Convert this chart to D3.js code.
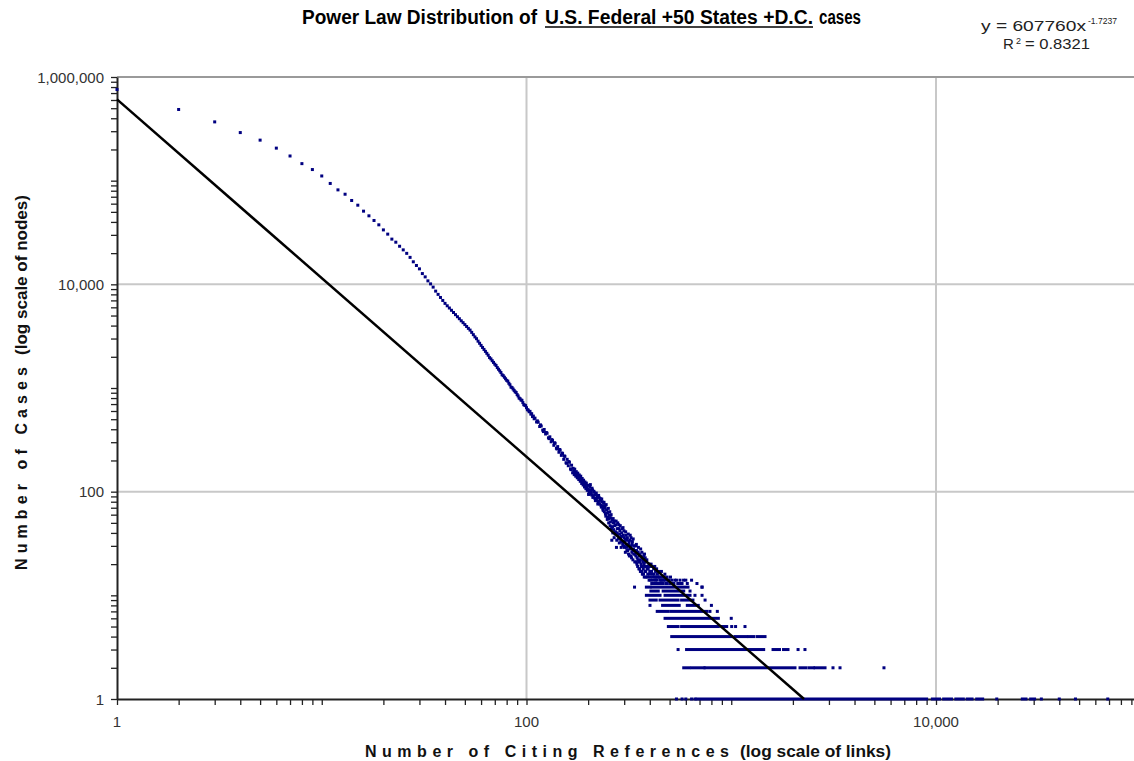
<!DOCTYPE html>
<html lang="en">
<head>
<meta charset="utf-8">
<title>Power Law Distribution</title>
<script src="https://cdn.jsdelivr.net/npm/d3@7"></script>
<style>
  html, body { margin: 0; padding: 0; background: #fff; }
  svg { display: block; font-family: "Liberation Sans", Arial, sans-serif; }
</style>
</head>
<body>
<div id="chart"></div>
<script>
// [citing references, number of cases]
var headPoints = [
  [1,757000],[2,486000],[3,369000],[4,291000],[5,246000],[6,206000],[7,173000],[8,146000],[9,128000],[10,111000],
  [11,94000],[12,81500],[13,74000],[14,64400],[15,58000],[16,50800],[17,45800],[18,41300],[19,37500],[20,33500],
  [21,30500],[22,27300],[23,25500],[24,23300],[25,21500],[26,19900],[27,18200],[28,16500],[29,15200],[30,14100],
  [31,12700],[32,11800],[33,10800],[34,10100],[35,9400],[36,8600],[37,8000],[38,7470],[39,6990],[40,6550],
  [41,6210],[42,5910],[43,5620],[44,5350],[45,5100],[46,4870],[47,4660],[48,4450],[49,4270],[50,4090],
  [51,3920],[52,3760],[53,3620],[54,3440],[55,3270],[56,3110],[57,2990],[58,2830],[59,2700],[60,2575],
  [61,2460],[62,2355],[63,2255],[64,2160],[65,2070],[66,1965],[67,1910],[68,1834],[69,1765],[70,1697],
  [71,1650],[72,1574],[73,1517],[74,1463],[75,1410],[76,1340],[77,1315],[78,1270],[79,1227],[80,1186],
  [81,1165],[82,1111],[83,1075],[84,1020],[85,1009],[86,978],[87,948],[88,919],[89,905],[90,864],
  [91,838],[92,800],[93,789],[94,766],[95,760],[96,723],[97,690],[98,683],[99,676],[100,646],
  [101,618],[102,612]
];

var bandPoints = [
  [103,590],[104,595],[105,560],[106,565],[107,530],[108,536],[109,505],[110,512],[112,470],[113,482],
  [114,468],[116,425],[117,441],[118,430],[120,392],[121,380],[122,398],[124,360],[125,372],[126,366],
  [128,331],[129,325],[130,338],[132,303],[133,318],[134,312],[136,280],[137,296],[138,293],[140,262],
  [141,258],[142,272],[144,240],[145,255],[146,252],[148,224],[149,236],[150,233],[152,205],[153,221],
  [154,219],[156,190],[157,188],[158,205],[160,178],[161,195],[162,192],[164,166],[165,163],[166,180],
  [168,152],[169,168],[170,158],[171,146],[172,165],[173,150],[174,141],[175,156],[176,146],[177,136],
  [178,151],[179,140],[180,131],[181,145],[182,137],[183,126],[184,141],[185,128],[186,120],[187,134],
  [188,125],[189,116],[190,129],[191,119],[192,111],[193,124],[194,116],[195,107],[196,121],[197,110],
  [198,103],[199,115],[200,106],[201,94],[202,98],[203,104],[204,111],[205,117],[206,100],[207,96],
  [208,93],[209,108],[210,104],[211,88],[212,90],[213,101],[214,99],[215,93],[216,86],[217,82],
  [218,95],[219,97],[220,82],[221,87],[222,91],[223,76],[224,79],[225,92],[226,88],[227,81],
  [228,76],[229,86],[230,84],[231,74],[232,71],[233,85],[234,80],[235,72],[236,68],[237,66],
  [238,77],[239,79],[240,64],[241,70],[242,72],[243,61],[244,58],[245,75],[246,67],[247,62],
  [248,54],[249,57],[250,63],[251,69],[252,50],[253,55],[254,59],[255,64],[256,47],[257,51],
  [258,56],[259,60],[260,44],[261,34],[262,53],[263,46],[264,40],[265,55],[266,50],[267,43],
  [268,36],[269,52],[270,47],[271,39],[272,41],[273,48],[274,52],[275,29],[276,34],[277,40],
  [278,44],[279,50],[280,38],[281,35],[282,48],[283,44],[284,32],[285,39],[286,42],[287,47],
  [288,36],[289,33],[290,29],[291,37],[292,40],[293,44],[294,33],[295,31],[296,45],[297,38],
  [298,30],[299,42],[300,36],[301,29],[302,33],[303,35],[304,26],[305,41],[306,38],[307,31],
  [308,29],[309,27],[310,34],[311,36],[312,27],[313,30],[314,39],[315,25],[316,31],[317,33],
  [318,24],[319,28],[320,34],[321,38],[322,29],[323,24],[324,36],[325,30],[326,23],[327,26],
  [328,31],[329,33],[330,27],[331,22],[332,35],[333,28],[334,25],[336,30],[337,12],[338,21],
  [339,25],[340,27],[341,30],[342,24],[343,21],[344,31],[345,27],[346,20],[347,23],[348,26],
  [349,19],[350,22],[351,26],[352,29],[353,21],[354,18],[355,24],[356,25],[357,18],[358,21],
  [359,22],[360,17],[361,28],[362,24],[363,20],[364,19],[365,17],[366,26],[367,23],[368,16],
  [369,19],[370,22],[371,21],[372,18],[373,16],[374,24],[375,20],[376,15],[377,25],[378,21],
  [379,17],[380,23],[381,19],[382,17],[383,15],[384,19],[385,21],[387,22],[388,18],[390,15],
  [391,16],[393,18],[394,19],[396,20],[397,14],[399,16],[400,17],[402,19],[403,15],[405,14],
  [406,20],[408,17],[409,13],[411,19],[412,16],[414,15],[415,14],[417,13],[418,18],[420,16],
  [421,13],[423,19],[424,15],[426,14],[427,17],[429,15],[430,13],[432,18],[433,14],[435,13],
  [436,16],[438,15],[440,13],[442,17],[444,15],[446,13],[448,14],[450,15],[452,13],[454,14],
  [456,17],[458,13],[460,14],[462,15],[465,13],[468,14],[470,15],[474,16],[476,14],[480,13],
  [483,13],[486,15],[490,14],[495,14],[500,13],[505,15],[512,14],[518,13],[525,13],[530,14],
  [540,14],[548,13],[556,13],[562,14],[568,13],[575,13],[585,14],[600,14],[610,13],[640,14],
  [680,13],[720,12]
];

// low counts form horizontal runs: [cases, first k, last k]
var caseRuns = [
  [1,540,540],[1,575,575],[1,600,600],[1,640,640],[1,665,665],[1,680,9000],[1,9600,10400],[1,10900,11900],
  [1,12500,13600],[1,14200,15000],[1,15800,16900],[1,19800,19800],[1,26400,27500],[1,29000,30300],
  [1,32700,32700],[1,40000,40000],[1,48000,48000],[1,69000,69000],
  [2,586,625],[2,644,737],[2,744,2048],[2,2167,2318],[2,2400,2520],[2,2565,2871],[2,3140,3140],[2,3398,3398],[2,5570,5570],
  [3,550,550],[3,605,1440],[3,1600,1720],[3,1800,1893],[3,2120,2120],[3,2291,2291],
  [4,512,1005],[4,1043,1189],[4,1220,1290],[4,1340,1462],
  [5,493,550],[5,572,865],[5,900,950],[5,1005,1005],[5,1050,1050],[5,1167,1167],
  [6,475,605],[6,625,865],[6,1000,1000],
  [7,435,493],[7,510,760],[7,787,787],[7,855,855],
  [8,401,401],[8,462,557],[8,610,690],[8,800,800],
  [9,401,430],[9,449,550],[9,572,650],[9,745,745],
  [10,385,449],[10,475,629],[10,665,665],[10,720,720],
  [11,405,440],[11,465,586],[11,629,629],
  [12,385,401],[12,410,615],[12,720,720]
];

var xLabelValues = [1, 100, 10000];
var xLabelTexts = ["1", "100", "10,000"];
var yLabelValues = [1, 100, 10000, 1000000];
var yLabelTexts = ["1", "100", "10,000", "1,000,000"];

var trendCoef = 607760, trendExp = -1.7237;

var width = 1134, height = 761;
var x = d3.scaleLog().domain([1, 100000]).range([117, 1140.75]);
var y = d3.scaleLog().domain([1, 1000000]).range([699, 77]);

var svg = d3.select("#chart").append("svg")
    .attr("width", width)
    .attr("height", height);

svg.append("rect").attr("width", width).attr("height", height).attr("fill", "#fff");

// gridlines every two decades
svg.selectAll(".vgrid").data([100, 10000]).enter().append("line")
    .attr("x1", function(d) { return x(d); }).attr("x2", function(d) { return x(d); })
    .attr("y1", y(1000000)).attr("y2", y(1))
    .attr("stroke", "#c8c8c8").attr("stroke-width", 2);
svg.selectAll(".hgrid").data([100, 10000, 1000000]).enter().append("line")
    .attr("x1", x(1)).attr("x2", width)
    .attr("y1", function(d) { return y(d); }).attr("y2", function(d) { return y(d); })
    .attr("stroke", function(d) { return d === 1000000 ? "#9a9a9a" : "#c8c8c8"; })
    .attr("stroke-width", 2);

// minor tick positions n*10^k
var xTicks = [], yTicks = [];
for (var p = 0; p < 5; p++) for (var n = 1; n < 10; n++) xTicks.push(n * Math.pow(10, p));
for (var p = 0; p < 6; p++) for (var n = 1; n < 10; n++) yTicks.push(n * Math.pow(10, p));
yTicks.push(1000000);

svg.append("g")
    .attr("transform", "translate(0," + y(1) + ")")
    .call(d3.axisBottom(x).tickValues(xTicks).tickSize(6).tickSizeOuter(0).tickFormat(""));
svg.append("g")
    .attr("transform", "translate(" + x(1) + ",0)")
    .call(d3.axisLeft(y).tickValues(yTicks).tickSize(6).tickSizeOuter(0).tickFormat(""));
svg.selectAll(".domain").attr("stroke", "#222").attr("stroke-width", 2);
svg.selectAll(".tick line").attr("stroke", "#222").attr("stroke-width", 1.3);

svg.selectAll(".xlab").data(xLabelValues).enter().append("text")
    .attr("x", function(d) { return x(d); }).attr("y", 727)
    .attr("text-anchor", "middle").attr("font-size", 15).attr("fill", "#333")
    .text(function(d, i) { return xLabelTexts[i]; });
svg.selectAll(".ylab").data(yLabelValues).enter().append("text")
    .attr("x", 104).attr("y", function(d) { return y(d) + 5.5; })
    .attr("text-anchor", "end").attr("font-size", 15).attr("fill", "#333")
    .text(function(d, i) { return yLabelTexts[i]; });

// data
var dot = 3;
var pts = headPoints.concat(bandPoints);
svg.append("g").selectAll("rect").data(pts).enter().append("rect")
    .attr("x", function(d) { return x(d[0]) - dot / 2; })
    .attr("y", function(d) { return y(d[1]) - dot / 2; })
    .attr("width", dot).attr("height", dot)
    .attr("fill", "#000080");
svg.append("g").selectAll("rect").data(caseRuns).enter().append("rect")
    .attr("x", function(d) { return x(d[1]) - dot / 2; })
    .attr("y", function(d) { return y(d[0]) - dot / 2; })
    .attr("width", function(d) { return x(d[2]) - x(d[1]) + dot; })
    .attr("height", dot)
    .attr("fill", "#000080");

// power trendline, ends where it reaches one case
var kEnd = Math.pow(1 / trendCoef, 1 / trendExp);
var trend = [1, kEnd].map(function(k) { return [k, trendCoef * Math.pow(k, trendExp)]; });
svg.append("path")
    .datum(trend)
    .attr("fill", "none").attr("stroke", "#000").attr("stroke-width", 2.5)
    .attr("d", d3.line().x(function(d) { return x(d[0]); }).y(function(d) { return y(d[1]); }));

// title
var title = svg.append("g").attr("font-weight", "bold").attr("font-size", 20)
    .attr("font-family", "'Liberation Sans Narrow', 'Arial Narrow', 'Liberation Sans', sans-serif");
title.append("text").attr("x", 302).attr("y", 24).attr("textLength", 235).attr("lengthAdjust", "spacingAndGlyphs")
    .text("Power Law Distribution of");
title.append("text").attr("x", 545).attr("y", 24).attr("textLength", 268).attr("lengthAdjust", "spacingAndGlyphs")
    .text("U.S. Federal +50 States +D.C.");
title.append("text").attr("x", 819).attr("y", 24).attr("textLength", 42).attr("lengthAdjust", "spacingAndGlyphs")
    .text("cases");
title.append("line").attr("x1", 545).attr("x2", 813).attr("y1", 27).attr("y2", 27)
    .attr("stroke", "#000").attr("stroke-width", 1.5);

// trendline equation
var eq = svg.append("g").attr("font-size", 15).attr("fill", "#222");
eq.append("text").attr("x", 981).attr("y", 31).attr("textLength", 105).attr("lengthAdjust", "spacingAndGlyphs")
    .text("y = 607760x");
eq.append("text").attr("x", 1088).attr("y", 24).attr("font-size", 9).attr("textLength", 29).attr("lengthAdjust", "spacingAndGlyphs")
    .text("-1.7237");
eq.append("text").attr("x", 1003).attr("y", 49).text("R");
eq.append("text").attr("x", 1016).attr("y", 44).attr("font-size", 9).text("2");
eq.append("text").attr("x", 1025).attr("y", 49).attr("textLength", 65).attr("lengthAdjust", "spacingAndGlyphs")
    .text("= 0.8321");

// axis titles
var xt = svg.append("g").attr("font-weight", "bold").attr("font-size", 16).attr("fill", "#111");
xt.append("text").attr("x", 365).attr("y", 757).attr("textLength", 364).attr("lengthAdjust", "spacing")
    .text("Number of Citing References");
xt.append("text").attr("x", 740).attr("y", 757).attr("textLength", 151).attr("lengthAdjust", "spacingAndGlyphs")
    .text("(log scale of links)");

var yt = svg.append("g").attr("font-weight", "bold").attr("font-size", 16).attr("fill", "#111")
    .attr("transform", "translate(27,570) rotate(-90)");
yt.append("text").attr("x", 0).attr("y", 0).attr("textLength", 203).attr("lengthAdjust", "spacing")
    .text("Number of Cases");
yt.append("text").attr("x", 215).attr("y", 0).attr("textLength", 160).attr("lengthAdjust", "spacingAndGlyphs")
    .text("(log scale of nodes)");
</script>
</body>
</html>
